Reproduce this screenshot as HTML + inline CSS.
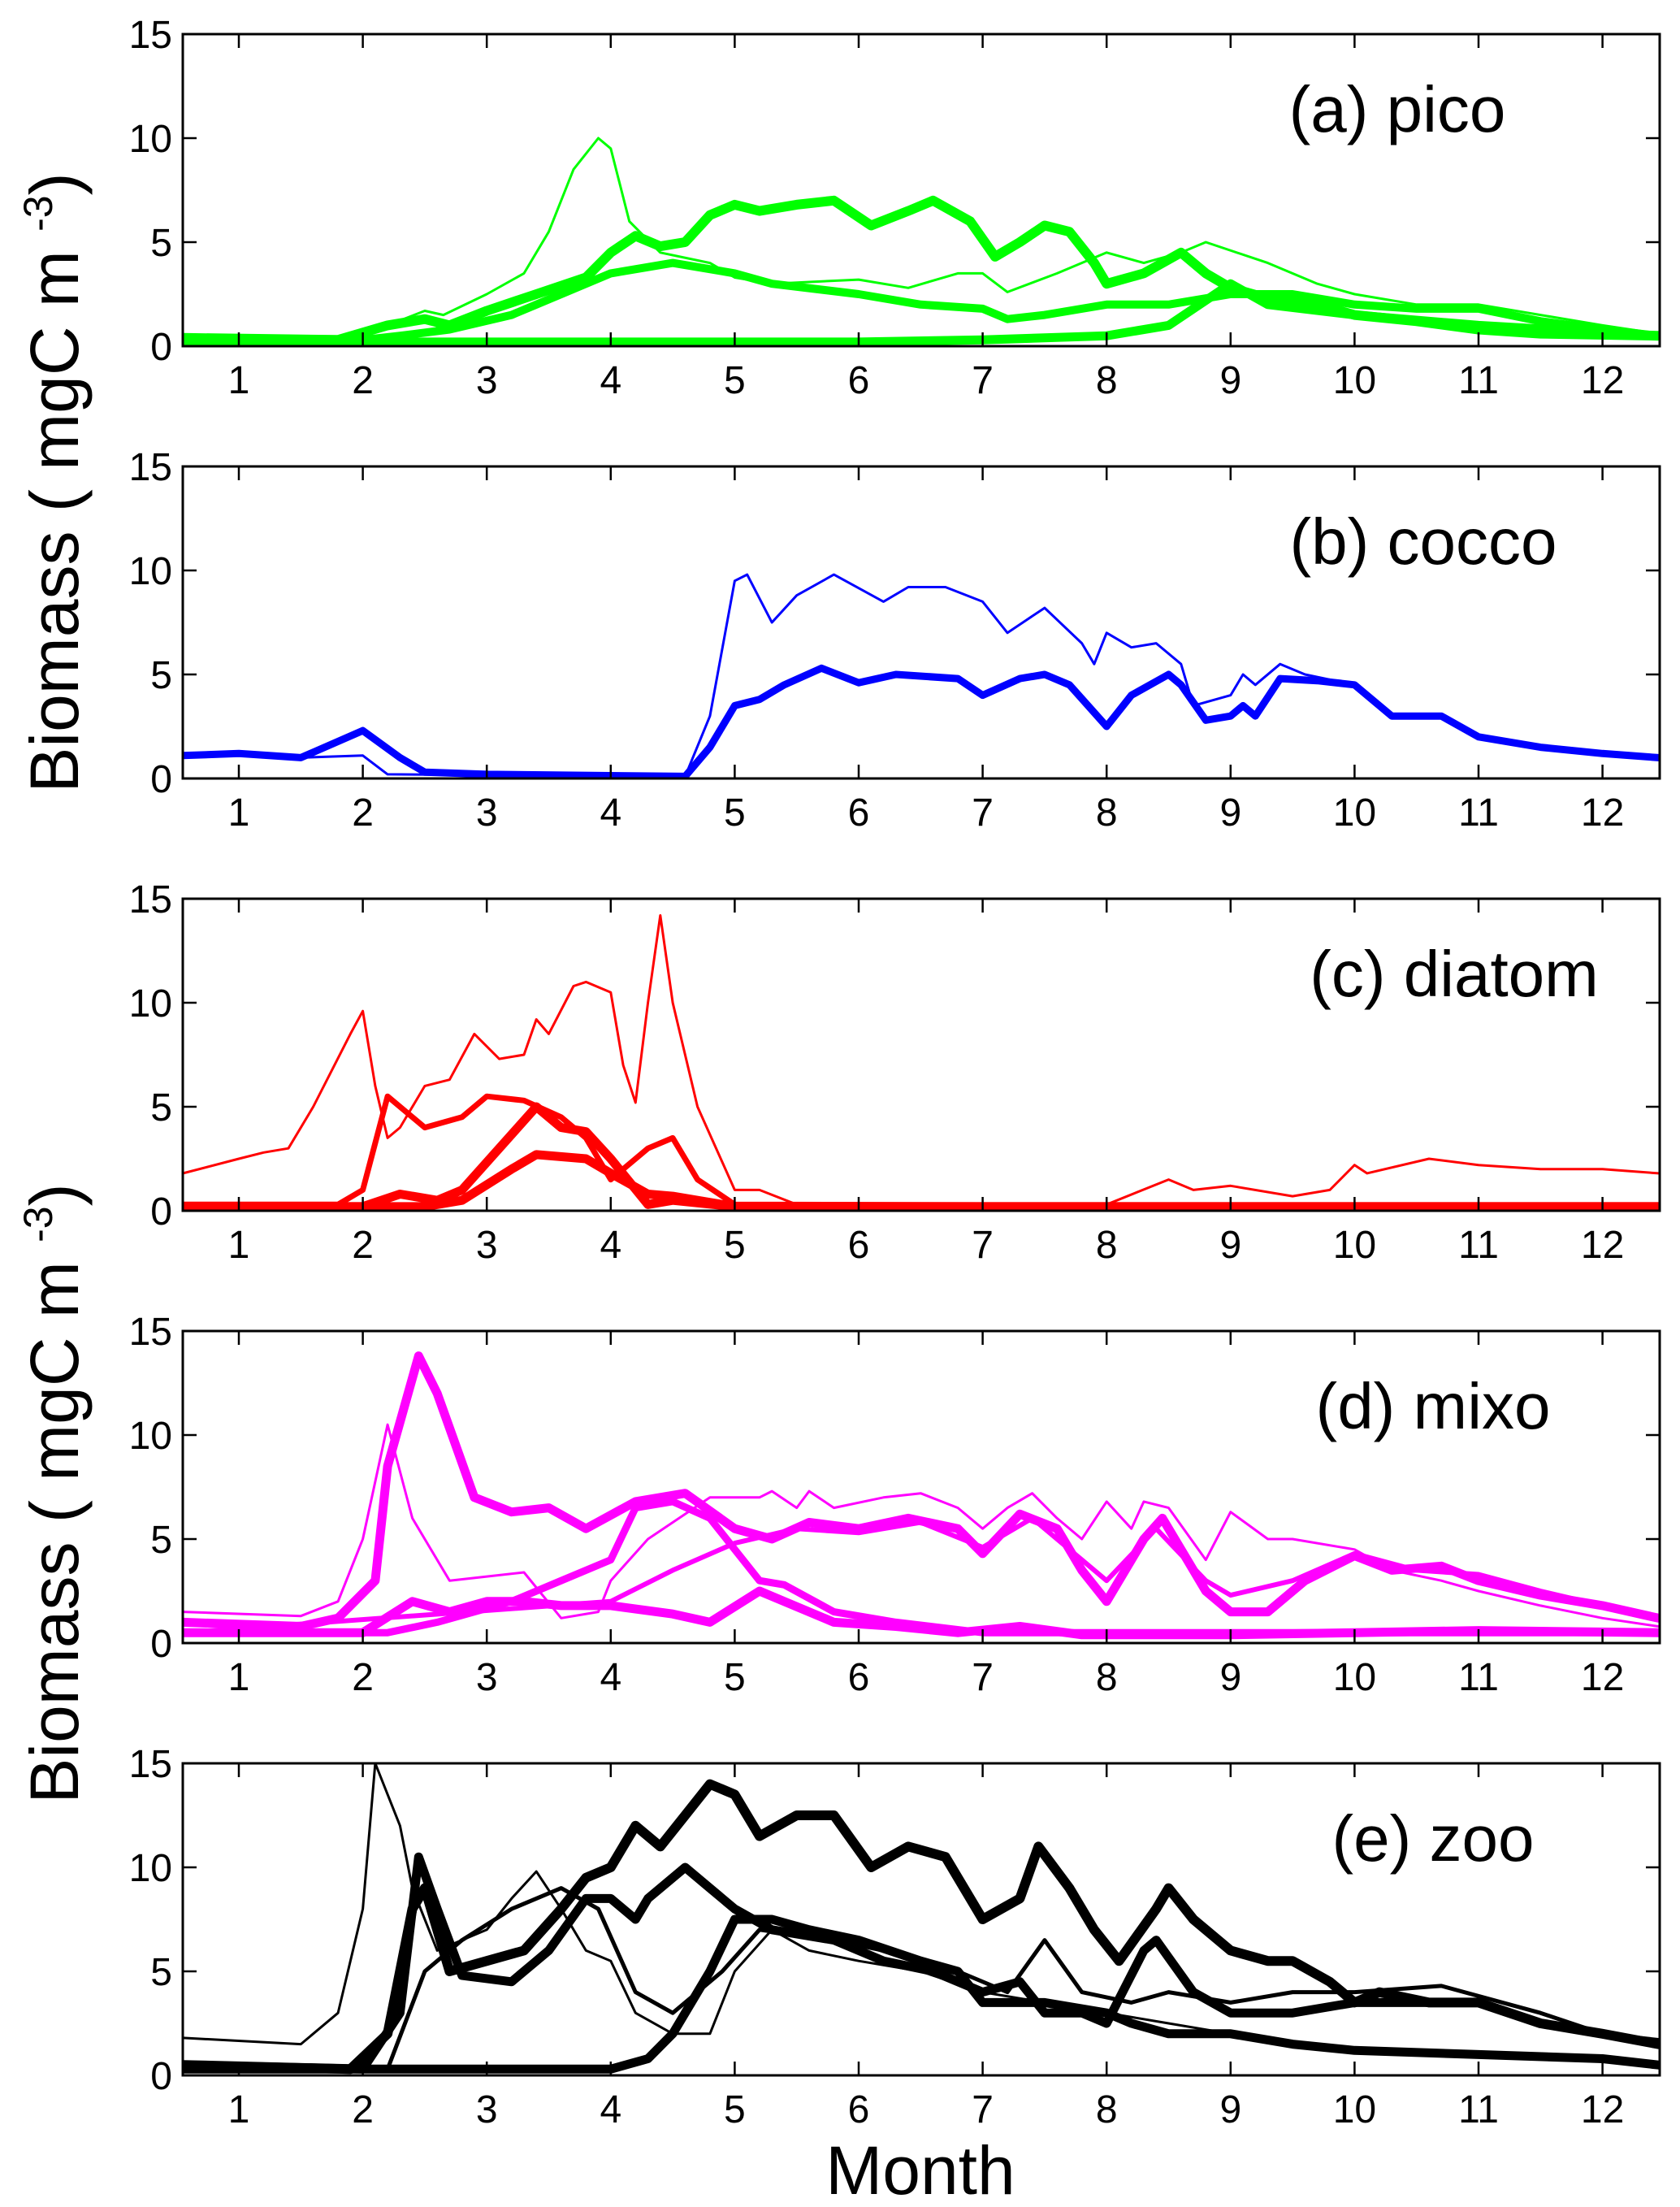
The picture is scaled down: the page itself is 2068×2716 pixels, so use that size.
<!DOCTYPE html>
<html><head><meta charset="utf-8"><style>
html,body{margin:0;padding:0;background:#fff}
svg{display:block}
text{font-family:"Liberation Sans",sans-serif;fill:#000}
</style></head><body>
<svg id="chart" width="2068" height="2716" viewBox="0 0 2068 2716" xmlns="http://www.w3.org/2000/svg">
<text transform="translate(96,594) rotate(-90)" text-anchor="middle" font-size="84">Biomass ( mgC m <tspan font-size="50" dy="-32">-3</tspan><tspan dy="32">)</tspan></text>
<text transform="translate(96,1838) rotate(-90)" text-anchor="middle" font-size="84">Biomass ( mgC m <tspan font-size="50" dy="-32">-3</tspan><tspan dy="32">)</tspan></text>
<text x="1133" y="2700" text-anchor="middle" font-size="84">Month</text>
</svg>
<script>
const monthTicks=[1,2,3,4,5,6,7,8,9,10,11,12];
const yTicks=[0,5,10,15];
const panelTitles=["(a) pico","(b) cocco","(c) diatom","(d) mixo","(e) zoo"];
const panelColors=["#00ff00","#0000ff","#ff0000","#ff00ff","#000000"];
// panel a
const aX1=[0.55,1.8,2.2,2.5,2.65,3.0,3.3,3.5,3.7,3.9,4.0,4.15,4.4,4.8,5.0,5.3,6.0,6.4,6.8,7.0,7.2,7.6,8.0,8.3,8.6,8.8,9.3,9.7,10,10.5,11,11.5,12,12.45];
const aY1=[0.4,0.3,1,1.7,1.5,2.5,3.5,5.5,8.5,10,9.5,6,4.5,4,3.3,3,3.2,2.8,3.5,3.5,2.6,3.5,4.5,4,4.5,5,4,3,2.5,2,2,1.5,1,0.6];
const aX2=[0.55,1.8,2.2,2.5,2.7,3.0,3.4,3.8,4.0,4.2,4.4,4.6,4.8,5.0,5.2,5.5,5.8,6.1,6.4,6.6,6.9,7.1,7.3,7.5,7.7,7.9,8.0,8.3,8.6,8.8,9.0,9.3,9.7,10,10.5,11,11.5,12.45];
const aY2=[0.4,0.3,1.0,1.3,1.0,1.7,2.5,3.3,4.5,5.3,4.8,5.0,6.3,6.8,6.5,6.8,7.0,5.8,6.5,7,6,4.3,5,5.8,5.5,4,3,3.5,4.5,3.5,2.8,2.3,2,1.5,1.2,0.8,0.6,0.5];
const aX3=[0.55,2,2.3,2.7,3.2,3.6,4.0,4.5,5.0,5.3,6.0,6.5,7.0,7.2,7.5,8.0,8.5,9.0,9.5,10,10.5,11,11.5,12,12.45];
const aY3=[0.3,0.3,0.5,0.8,1.5,2.5,3.5,4.0,3.5,3,2.5,2,1.8,1.3,1.5,2,2,2.5,2.5,2.0,1.8,1.8,1.2,0.8,0.5];
const aX4=[0.55,6,7,8,8.5,9.0,9.3,10,11,12.45];
const aY4=[0.2,0.2,0.3,0.5,1.0,3,2,1.5,1.0,0.5];
// panel b
const bX1=[0.55,1.0,1.5,2.0,2.2,4.6,4.8,5.0,5.1,5.3,5.5,5.8,6.2,6.4,6.7,7.0,7.2,7.4,7.5,7.8,7.9,8.0,8.2,8.4,8.6,8.7,9.0,9.1,9.2,9.4,9.6,10,10.3,10.7,11,11.5,12,12.45];
const bY1=[1.1,1.2,1.0,1.1,0.2,0.1,3,9.5,9.8,7.5,8.8,9.8,8.5,9.2,9.2,8.5,7.0,7.8,8.2,6.5,5.5,7,6.3,6.5,5.5,3.5,4,5,4.5,5.5,5,4.5,3,3,2,1.5,1.2,1.0];
const bX2=[0.55,1.0,1.5,2.0,2.3,2.5,3,4.6,4.8,5.0,5.2,5.4,5.7,6.0,6.3,6.8,7.0,7.3,7.5,7.7,8.0,8.2,8.5,8.6,8.8,9.0,9.1,9.2,9.4,9.7,10,10.3,10.7,11,11.5,12,12.45];
const bY2=[1.1,1.2,1.0,2.3,1.0,0.3,0.2,0.1,1.5,3.5,3.8,4.5,5.3,4.6,5.0,4.8,4.0,4.8,5,4.5,2.5,4,5,4.5,2.8,3,3.5,3,4.8,4.7,4.5,3,3,2,1.5,1.2,1.0];
// panel c
const cX1=[0.55,1.0,1.2,1.4,1.6,1.9,2.0,2.1,2.2,2.3,2.5,2.7,2.9,3.1,3.3,3.4,3.5,3.7,3.8,4.0,4.1,4.2,4.3,4.4,4.5,4.7,5.0,5.2,5.5,7.5,8,8.5,8.7,9.0,9.5,9.8,10.0,10.1,10.6,11,11.5,12,12.45];
const cY1=[1.8,2.5,2.8,3,5,8.5,9.6,6,3.5,4,6,6.3,8.5,7.3,7.5,9.2,8.5,10.8,11,10.5,7,5.2,10,14.2,10,5,1,1.0,0.3,0.2,0.3,1.5,1,1.2,0.7,1,2.2,1.8,2.5,2.2,2,2,1.8];
const cX2=[0.55,1.8,2.0,2.2,2.5,2.8,3.0,3.3,3.6,3.8,4.0,4.3,4.5,4.7,5.0,12.45];
const cY2=[0.3,0.3,1,5.5,4,4.5,5.5,5.3,4.5,3.5,1.5,3,3.5,1.5,0.3,0.2];
const cX3=[0.55,2.0,2.3,2.6,2.8,3.1,3.4,3.6,3.8,4.0,4.3,4.5,5.0,12.45];
const cY3=[0.2,0.2,0.8,0.5,1,3,5,4,3.8,2.5,0.3,0.5,0.2,0.2];
const cX4=[0.55,2.5,2.8,3.2,3.4,3.8,4.0,4.3,4.5,5.0,12.45];
const cY4=[0.2,0.2,0.5,2,2.7,2.5,1.8,0.8,0.7,0.2,0.2];
// panel d
const dX1=[0.55,1.5,1.8,2.0,2.2,2.4,2.7,3.0,3.3,3.6,3.9,4.0,4.3,4.8,5.2,5.3,5.5,5.6,5.8,6.2,6.5,6.8,7.0,7.2,7.4,7.6,7.8,8.0,8.2,8.3,8.5,8.8,9.0,9.3,9.5,10,10.3,10.7,11,11.5,12,12.45];
const dY1=[1.5,1.3,2,5,10.5,6,3,3.2,3.4,1.2,1.5,3,5,7,7,7.3,6.5,7.3,6.5,7,7.2,6.5,5.5,6.5,7.2,6,5,6.8,5.5,6.8,6.5,4,6.3,5,5,4.5,3.5,3,2.5,1.8,1.2,0.8];
const dX2=[0.55,1.5,1.8,2.1,2.2,2.45,2.6,2.9,3.2,3.5,3.8,4.2,4.6,5.0,5.3,5.6,6.0,6.4,6.8,7.0,7.3,7.6,7.8,8.0,8.3,8.45,8.6,8.8,9.0,9.3,9.6,10,10.3,10.7,11,11.5,12,12.45];
const dY2=[1.0,0.8,1.2,3,8.5,13.8,12,7,6.3,6.5,5.5,6.8,7.2,5.5,5,5.8,5.5,6.0,5.5,4.3,6.2,5.5,3.5,2,5,6,4.5,2.5,1.5,1.5,3,4.2,3.5,3.7,3,2.3,1.8,1.2];
const dX3=[0.55,2.0,2.4,2.7,3.0,3.3,3.6,4.0,4.5,4.8,5.2,5.4,5.8,6.3,6.8,7.3,7.8,9,10,11,12.45];
const dY3=[0.5,0.5,2,1.5,2,2,1.8,1.8,1.4,1.0,2.5,2.0,1,0.8,0.5,0.8,0.4,0.4,0.5,0.6,0.5];
const dX4=[0.55,2.2,2.6,3.2,3.6,4.0,4.2,4.5,4.8,5.2,5.4,5.8,6.3,7,12.45];
const dY4=[0.5,0.5,1,2,3,4,6.5,6.8,6,3,2.8,1.5,1,0.5,0.5];
const dX5=[0.55,4.0,4.5,5.0,5.5,6.0,6.5,7.0,7.4,7.8,8.0,8.4,8.8,9.0,9.5,10,10.5,11,11.5,12,12.45];
const dY5=[0.5,2,3.5,4.8,5.5,5.3,5.8,4.6,6,4,3,5.5,3,2.3,3,4.3,3.5,3.3,2.5,1.8,1.2];
// panel e
const eX1=[0.55,1.5,1.8,2.0,2.1,2.3,2.4,2.6,3.0,3.2,3.4,3.6,3.8,4.0,4.2,4.5,4.8,5.0,5.3,5.6,6,6.5,7,7.5,8,8.5,9,9.5,10,11,12.45];
const eY1=[1.8,1.5,3,8,15,12,9,6,7,8.5,9.8,8,6,5.5,3,2,2,5,7,6,5.5,5,4,3.5,3,2.5,2,1.5,1.2,1,0.5];
const eX2=[0.55,1.9,2.2,2.4,2.5,2.7,3.0,3.3,3.6,3.8,4.0,4.2,4.4,4.6,4.8,5.0,5.2,5.5,5.8,6.1,6.4,6.7,7.0,7.3,7.45,7.7,7.9,8.1,8.4,8.5,8.7,9.0,9.3,9.5,9.8,10,10.2,10.6,11,11.5,12,12.45];
const eY2=[0.5,0.3,2,8,9,5,5.5,6,8,9.5,10,12,11,12.5,14,13.5,11.5,12.5,12.5,10,11,10.5,7.5,8.5,11,9,7,5.5,8,9,7.5,6,5.5,5.5,4.5,3.5,4,3.5,3.5,2.5,2,1.5];
const eX3=[0.55,2.0,2.3,2.45,2.6,2.8,3.2,3.5,3.8,4.0,4.2,4.3,4.6,4.8,5.0,5.3,5.8,6.2,6.6,7,7.3,7.5,7.8,8,8.3,8.4,8.7,9,9.5,10,10.5,11,11.5,12,12.45];
const eY3=[0.5,0.3,3,10.5,8,4.8,4.5,6,8.5,8.5,7.5,8.5,10,9,8,7,6.5,5.5,5,4,4.5,3,3,2.5,6,6.5,4,3,3,3.5,3.5,3.5,2.5,2,1.5];
const eX4=[0.55,4.0,4.3,4.5,4.8,5.0,5.3,5.6,6.0,6.5,6.8,7.0,7.5,8,8.2,8.5,9,9.5,10,11,12,12.45];
const eY4=[0.3,0.3,0.8,2,5,7.5,7.5,7,6.5,5.5,5,3.5,3.5,3,2.5,2,2,1.5,1.2,1,0.8,0.5];
const eX5=[0.55,2.2,2.5,2.8,3.2,3.6,3.9,4.2,4.5,4.9,5.2,5.8,6.2,6.8,7.2,7.5,7.8,8.2,8.5,9,9.5,10,10.7,11.5,12,12.45];
const eY5=[0.5,0.3,5,6.5,8,9,8,4,3,5,7,6.5,6,5,4,6.5,4,3.5,4,3.5,4,4,4.3,3,2,1.7];

const panelSeries=[
 [[aX1,aY1,3],[aX2,aY2,12],[aX3,aY3,10],[aX4,aY4,11]],
 [[bX1,bY1,3],[bX2,bY2,9]],
 [[cX1,cY1,3],[cX2,cY2,7],[cX3,cY3,11],[cX4,cY4,11]],
 [[dX1,dY1,3],[dX2,dY2,11],[dX3,dY3,11],[dX4,dY4,9],[dX5,dY5,6]],
 [[eX1,eY1,3],[eX2,eY2,12],[eX3,eY3,11],[eX4,eY4,11],[eX5,eY5,5]]
];
const NS="http://www.w3.org/2000/svg";
const svg=document.getElementById('chart');
const L=225,R=2043,H=384,firstTop=42,step=532;
const xs=m=>294+(m-1)*152.6;
function mk(tag,attrs,parent){const e=document.createElementNS(NS,tag);for(const k in attrs)e.setAttribute(k,attrs[k]);parent.appendChild(e);return e;}
panelTitles.forEach((title,p)=>{
 const top=firstTop+p*step,bot=top+H;
 const ys=v=>bot-v/15*H;
 const g=mk('g',{},svg);
 
 
 const defs=mk('defs',{},g);
 const cp=mk('clipPath',{id:'clip'+p},defs);
 mk('rect',{x:L,y:top,width:R-L,height:H},cp);
 const lines=mk('g',{'clip-path':'url(#clip'+p+')'},g);
 panelSeries[p].forEach((s,i)=>{
  const [X,Y,w]=s;
  const d=X.map((x,j)=>(j?'L':'M')+xs(x).toFixed(1)+','+ys(Y[j]).toFixed(1)).join('');
  const path=mk('path',{d:d,fill:'none',stroke:panelColors[p],'stroke-width':w,'stroke-linejoin':'round','stroke-linecap':'round'},lines);
  
  
 });
 const box=mk('rect',{x:L,y:top,width:R-L,height:H,fill:'none',stroke:'#000','stroke-width':3},g);
 
 
 monthTicks.forEach(m=>{
  const x=xs(m);
  mk('line',{x1:x,x2:x,y1:bot,y2:bot-17,stroke:'#000','stroke-width':2.5},g);
  mk('line',{x1:x,x2:x,y1:top,y2:top+17,stroke:'#000','stroke-width':2.5},g);
  const t=mk('text',{x:x,y:bot+58,'text-anchor':'middle','font-size':48},g);
  t.textContent=m;
  
  
 });
 yTicks.forEach(v=>{
  const y=ys(v);
  mk('line',{x1:L,x2:L+17,y1:y,y2:y,stroke:'#000','stroke-width':2.5},g);
  mk('line',{x1:R,x2:R-17,y1:y,y2:y,stroke:'#000','stroke-width':2.5},g);
  const t=mk('text',{x:212,y:y+17,'text-anchor':'end','font-size':48},g);
  t.textContent=v;
  
  
 });
 const tt=mk('text',{x:[1720,1752,1790,1764,1764][p],y:top+120,'text-anchor':'middle','font-size':80},g);
 tt.textContent=title;
 
 
});
</script>
</body></html>
